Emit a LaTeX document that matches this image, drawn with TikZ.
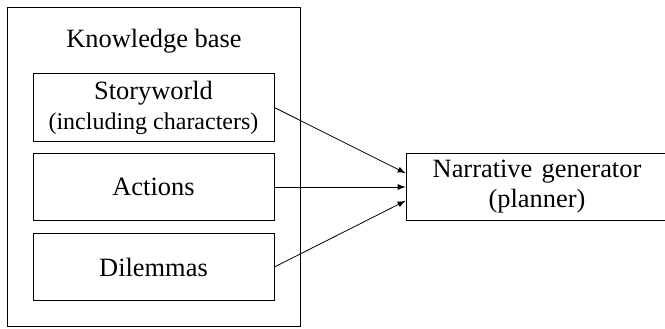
\documentclass[tikz,border=0pt]{standalone}
\usepackage{fontspec}
\setmainfont{Liberation Serif}
\newfontfamily\kbfont{Liberation Serif}
\begin{document}
\begin{tikzpicture}[x=0.5pt, y=-0.5pt,
        every node/.style={font=\kbfont\fontsize{13.2}{15}\selectfont},
        part/.style={draw, align=center, minimum width=120.5pt, minimum height=33.75pt, inner sep=0pt},
        >=latex]
        \useasboundingbox (0,0) rectangle (665,328);

        % knowledge base frame
        \node[draw, minimum width=146.25pt, minimum height=159.5pt] (kb) at (153.75,167) {};
        \node[anchor=base] (kbtitle) at (154,47) {Knowledge base};

        \node[part] (sw) at (153.5,107.5) {Storyworld\\{\fontsize{12}{14.5}\selectfont(including characters)}};
        \node[part] (ac) at (153.5,187) {Actions};
        \node[part] (dl) at (153.5,267) {Dilemmas};

        \node[part, minimum width=131pt, minimum height=33.5pt] (ng) at (537,187) {Narrative\hspace{0.1em} generator\\(planner)};

        \draw[->] (sw.east) -- (ng.174);
        \draw[->] (ac.east) -- (ng.west);
        \draw[->] (dl.east) -- (ng.186);
\end{tikzpicture}
\end{document}
